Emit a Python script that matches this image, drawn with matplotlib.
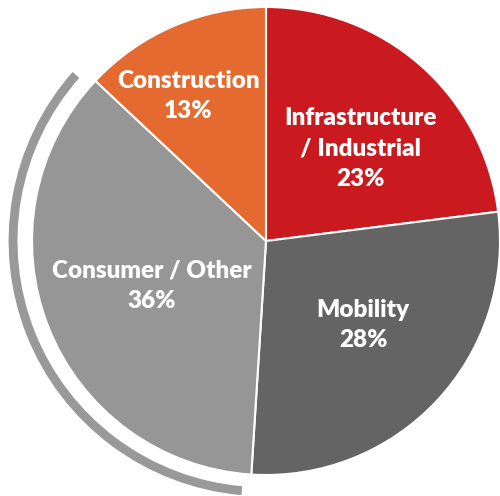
import matplotlib
matplotlib.use("Agg")
import matplotlib.pyplot as plt
from matplotlib.patches import Wedge

# Market segments, listed clockwise from 12 o'clock
segments = ["Infrastructure\n/ Industrial", "Mobility", "Consumer / Other", "Construction"]
shares = [23, 28, 36, 13]
colors = ["#CB1920", "#646464", "#969696", "#E46A30"]

# label anchor points (data units, pie radius = 1)
label_pos = [(0.402, 0.395), (0.415, -0.36), (-0.487, -0.19), (-0.333, 0.62)]

fig = plt.figure(figsize=(5.0, 4.96), dpi=100)
ax = fig.add_axes([0, 0, 1, 1])

wedges, _ = ax.pie(
    shares,
    colors=colors,
    startangle=90,
    counterclock=False,
    radius=1.0,
    wedgeprops=dict(edgecolor="white", linewidth=1.5),
)

for name, val, (x, y) in zip(segments, shares, label_pos):
    ax.text(x, y, f"{name}\n{val}%", ha="center", va="center",
            color="white", fontsize=17.5, fontweight="heavy",
            family="Lato", linespacing=1.45)

# bracket arc highlighting the consumer segment
ax.add_patch(Wedge((-0.01, 0.0), 1.09, 138.5, 265.0, width=0.038,
                   facecolor="#999999", edgecolor="none"))

ax.set_xlim(-266 / 234, 234 / 234)
ax.set_ylim(-255 / 234, 241 / 234)
ax.set_aspect("equal")
ax.axis("off")

fig.savefig("out.png", dpi=100, facecolor="white")
